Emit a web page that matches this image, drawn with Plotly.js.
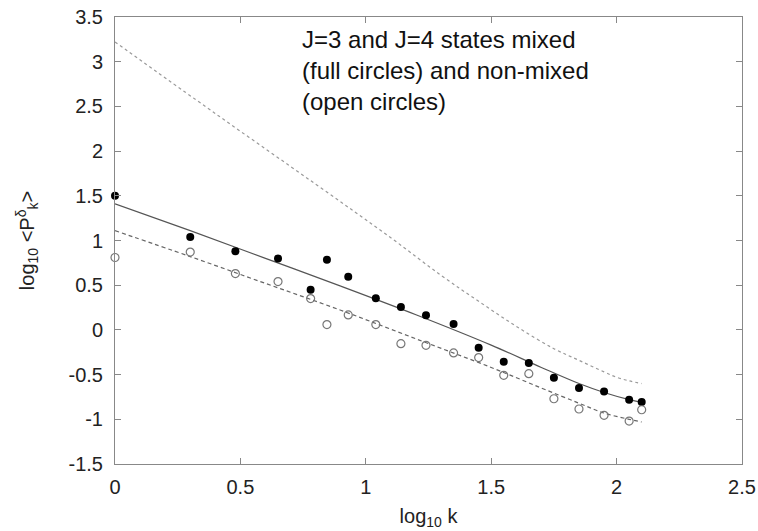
<!DOCTYPE html>
<html>
<head>
<meta charset="utf-8">
<script src="https://cdn.plot.ly/plotly-3.0.1.min.js"></script>
<style>html,body{margin:0;padding:0;background:#fff;}#chart{width:758px;height:531px;}</style>
</head>
<body>
<div id="chart"></div>
<script>
// log10 k positions of the data points
var logK = [0, 0.30, 0.48, 0.65, 0.78, 0.845, 0.93, 1.04, 1.14, 1.24, 1.35, 1.45, 1.55, 1.65, 1.75, 1.85, 1.95, 2.05, 2.1];
// mixed states (full circles)
var mixed = [1.50, 1.04, 0.88, 0.80, 0.45, 0.785, 0.595, 0.353, 0.256, 0.163, 0.066, -0.199, -0.355, -0.37, -0.535, -0.65, -0.69, -0.78, -0.807];
// non-mixed states (open circles)
var nonMixed = [0.81, 0.87, 0.63, 0.54, 0.35, 0.06, 0.167, 0.06, -0.154, -0.172, -0.258, -0.31, -0.508, -0.49, -0.77, -0.885, -0.955, -1.02, -0.893];

// fitted curves
var fitX = [0, 0.3, 0.6, 0.9, 1.2, 1.5, 1.7, 1.85, 1.95, 2.05, 2.1];
var fitMixed = [1.41, 1.11, 0.80, 0.49, 0.17, -0.17, -0.42, -0.60, -0.70, -0.78, -0.81];
var fitNonMixed = [1.11, 0.82, 0.52, 0.22, -0.10, -0.42, -0.65, -0.82, -0.93, -1.00, -1.03];
var refX = [0, 0.4, 0.8, 1.1, 1.3, 1.45, 1.6, 1.75, 1.85, 1.95, 2.0, 2.05, 2.1];
var refY = [3.22, 2.42, 1.63, 1.03, 0.61, 0.32, 0.04, -0.21, -0.34, -0.47, -0.53, -0.57, -0.60];

var xTicks = [0, 0.5, 1, 1.5, 2, 2.5];
var yTicks = [-1.5, -1, -0.5, 0, 0.5, 1, 1.5, 2, 2.5, 3, 3.5];

var FONT = 'Liberation Sans, Arial, sans-serif';

var traces = [
  {x: refX, y: refY, mode: 'lines', line: {color: '#9a9a9a', width: 1.2, dash: 'dot', shape: 'spline'}, hoverinfo: 'skip'},
  {x: fitX, y: fitMixed, mode: 'lines', line: {color: '#555', width: 1.2, shape: 'spline'}, hoverinfo: 'skip'},
  {x: fitX, y: fitNonMixed, mode: 'lines', line: {color: '#666', width: 1.2, dash: '4px,3px', shape: 'spline'}, hoverinfo: 'skip'},
  {x: logK, y: mixed, mode: 'markers', cliponaxis: false, marker: {symbol: 'circle', size: 8, color: '#000'}},
  {x: logK, y: nonMixed, mode: 'markers', cliponaxis: false, marker: {symbol: 'circle-open', size: 8, color: '#777', line: {width: 1.2}}}
];

var axisCommon = {
  showline: true, linecolor: '#888', linewidth: 1, mirror: 'ticks',
  ticks: 'inside', ticklen: 6, tickcolor: '#888', showgrid: false, zeroline: false,
  tickfont: {family: FONT, size: 20, color: '#222'}
};

var layout = {
  width: 758, height: 531,
  margin: {l: 115, r: 16, t: 17, b: 67},
  paper_bgcolor: '#fff', plot_bgcolor: '#fff',
  showlegend: false,
  xaxis: Object.assign({}, axisCommon, {
    range: [0, 2.5], tickvals: xTicks, ticktext: xTicks.map(String), ticklabelstandoff: 5,
    title: {text: 'log<sub>10</sub> k', font: {family: FONT, size: 20, color: '#222'}, standoff: 11}
  }),
  yaxis: Object.assign({}, axisCommon, {
    range: [-1.5, 3.5], tickvals: yTicks, ticktext: yTicks.map(String), ticklabelstandoff: 7,
    title: {text: 'log<sub>10</sub> &lt;P<sup>δ</sup><sub>k</sub>&gt;', font: {family: FONT, size: 20, color: '#222'}, standoff: 28}
  }),
  annotations: [{
    xref: 'paper', yref: 'paper', x: 0.295, y: 0.985, xanchor: 'left', yanchor: 'top', align: 'left',
    showarrow: false,
    text: 'J=3 and J=4 states mixed<br>(full circles) and non-mixed<br>(open circles)',
    font: {family: FONT, size: 24, color: '#111'}
  }]
};

Plotly.newPlot('chart', traces, layout, {displayModeBar: false, staticPlot: true});
</script>
</body>
</html>
